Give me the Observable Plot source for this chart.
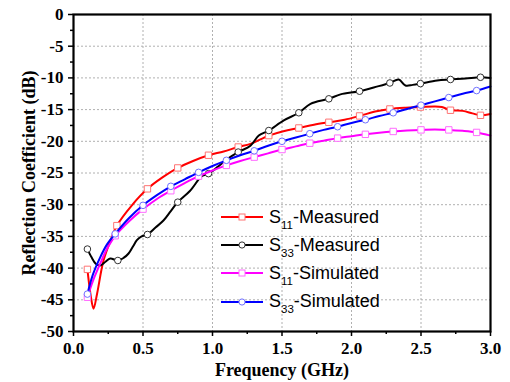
<!DOCTYPE html>
<html><head><meta charset="utf-8">
<script src="https://cdn.jsdelivr.net/npm/d3@7"></script>
<script src="https://cdn.jsdelivr.net/npm/@observablehq/plot@0.6"></script>
<style>
body{margin:0;background:#fff;}
#wrap{position:relative;width:510px;height:382px;}
#legend{position:absolute;left:221px;top:203px;font-family:"Liberation Sans",Arial,sans-serif;font-size:18px;color:#000;}
.row{height:28.2px;display:flex;align-items:center;white-space:nowrap;}
.row svg{margin-right:6px;display:block;}
.sub{font-size:11.5px;position:relative;top:6px;}
</style></head><body><div id="wrap"><div id="legend"></div></div>
<script>
// ---- data (frequency in GHz, reflection coefficient in dB) ----
const seriesNames = ["S11-Measured", "S33-Measured", "S11-Simulated", "S33-Simulated"];

const s11MeasX = [0.10,0.125,0.144,0.17,0.216,0.276,0.312,0.42,0.532,0.64,0.75,0.86,0.971,1.08,1.185,1.273,1.405,1.51,1.621,1.73,1.837,1.95,2.058,2.17,2.276,2.39,2.496,2.60,2.65,2.712,2.80,2.87,2.928,3.0];
const s11MeasY = [-40.2,-44.5,-46.4,-44.0,-38.8,-35.1,-33.3,-30.1,-27.5,-25.7,-24.2,-23.1,-22.2,-21.6,-20.9,-20.4,-19.1,-18.4,-17.9,-17.4,-17.0,-16.6,-16.0,-15.3,-14.9,-14.7,-14.6,-14.5,-14.6,-15.1,-15.2,-15.6,-15.9,-15.7];
const s11MeasMarkX = [0.10,0.312,0.532,0.75,0.971,1.185,1.405,1.621,1.837,2.058,2.276,2.496,2.712,2.928];
const s11MeasMarkY = [-40.2,-33.3,-27.5,-24.2,-22.2,-20.9,-19.1,-17.9,-17.0,-16.0,-14.9,-14.6,-15.1,-15.9];

const s33MeasX = [0.10,0.13,0.16,0.192,0.23,0.264,0.319,0.36,0.396,0.43,0.456,0.49,0.532,0.59,0.647,0.70,0.75,0.839,0.923,0.971,1.04,1.106,1.185,1.273,1.333,1.405,1.513,1.621,1.705,1.837,1.921,2.058,2.16,2.276,2.34,2.388,2.44,2.496,2.616,2.712,2.82,2.928,3.0];
const s33MeasY = [-37.0,-38.3,-39.3,-39.6,-39.0,-38.5,-38.8,-38.4,-37.7,-36.5,-35.6,-35.0,-34.7,-33.6,-32.5,-31.0,-29.6,-27.8,-25.5,-25.1,-24.0,-22.8,-21.7,-20.7,-19.1,-18.3,-16.7,-15.5,-14.1,-13.3,-12.6,-12.1,-11.5,-10.8,-10.25,-11.2,-11.1,-10.9,-10.4,-10.25,-10.1,-9.9,-10.0];
const s33MeasMarkX = [0.10,0.319,0.532,0.75,0.971,1.185,1.405,1.621,1.837,2.058,2.276,2.496,2.712,2.928];
const s33MeasMarkY = [-37.0,-38.8,-34.7,-29.6,-25.1,-21.7,-18.3,-15.5,-13.3,-12.1,-10.8,-10.9,-10.25,-9.9];

const s11SimX = [0.10,0.14,0.192,0.24,0.30,0.40,0.50,0.60,0.70,0.80,0.90,1.00,1.10,1.20,1.30,1.40,1.50,1.60,1.70,1.80,1.90,2.00,2.10,2.20,2.30,2.40,2.50,2.60,2.70,2.80,2.90,3.00];
const s11SimY = [-44.6,-42.0,-39.3,-37.0,-34.9,-32.6,-30.7,-29.1,-27.8,-26.6,-25.5,-24.6,-23.8,-23.1,-22.5,-21.9,-21.3,-20.8,-20.3,-19.9,-19.5,-19.2,-18.9,-18.65,-18.45,-18.3,-18.2,-18.15,-18.2,-18.35,-18.6,-19.1];
const s11SimMarkX = [0.1,0.3,0.5,0.7,0.9,1.1,1.3,1.5,1.7,1.9,2.1,2.3,2.5,2.7,2.9];
const s11SimMarkY = [-44.6,-34.9,-30.7,-27.8,-25.5,-23.8,-22.5,-21.3,-20.3,-19.5,-18.9,-18.45,-18.2,-18.2,-18.6];

const s33SimX = [0.10,0.14,0.192,0.24,0.30,0.40,0.50,0.60,0.70,0.80,0.90,1.00,1.10,1.20,1.30,1.40,1.50,1.60,1.70,1.80,1.90,2.00,2.10,2.20,2.30,2.40,2.50,2.60,2.70,2.80,2.90,3.00];
const s33SimY = [-44.1,-41.0,-38.3,-36.3,-34.6,-32.1,-30.1,-28.5,-27.1,-26.0,-24.9,-23.9,-23.0,-22.2,-21.5,-20.7,-20.0,-19.4,-18.8,-18.2,-17.7,-17.1,-16.6,-16.0,-15.5,-14.9,-14.3,-13.7,-13.1,-12.5,-12.0,-11.35];
const s33SimMarkX = [0.1,0.3,0.5,0.7,0.9,1.1,1.3,1.5,1.7,1.9,2.1,2.3,2.5,2.7,2.9];
const s33SimMarkY = [-44.1,-34.6,-30.1,-27.1,-24.9,-23.0,-21.5,-20.0,-18.8,-17.7,-16.6,-15.5,-14.3,-13.1,-12.0];

const xTicks = [0,0.5,1.0,1.5,2.0,2.5,3.0];
const xMinor = [0.25,0.75,1.25,1.75,2.25,2.75];
const yTicks = [0,-5,-10,-15,-20,-25,-30,-35,-40,-45,-50];
const yMinor = [-2.5,-7.5,-12.5,-17.5,-22.5,-27.5,-32.5,-37.5,-42.5,-47.5];

// ---- build ----
const pts = (xs, ys) => xs.map((x, i) => ({x, y: ys[i]}));
const styles = [
  {line:"#ff0000", mark:"#ff7373", symbol:"square", r:3.6, xs:s11MeasX, ys:s11MeasY, mx:s11MeasMarkX, my:s11MeasMarkY},
  {line:"#000000", mark:"#333333", symbol:"circle", r:3.3, xs:s33MeasX, ys:s33MeasY, mx:s33MeasMarkX, my:s33MeasMarkY},
  {line:"#ff00ff", mark:"#ff6bff", symbol:"square", r:3.6, xs:s11SimX, ys:s11SimY, mx:s11SimMarkX, my:s11SimMarkY},
  {line:"#0000ff", mark:"#7070ff", symbol:"circle", r:3.3, xs:s33SimX, ys:s33SimY, mx:s33SimMarkX, my:s33SimMarkY}
];
const seriesMarks = styles.flatMap(s => [
  Plot.line(pts(s.xs, s.ys), {x:"x", y:"y", stroke:s.line, strokeWidth:2, curve:"catmull-rom"}),
  Plot.dot(pts(s.mx, s.my), {x:"x", y:"y", symbol:s.symbol, r:s.r, fill:"white", stroke:s.mark, strokeWidth:1})
]);

const grid = {stroke:"#b0b0b0", strokeOpacity:1, strokeDasharray:"2,2", strokeWidth:1};
const plot = Plot.plot({
  width:510, height:382,
  marginLeft:73, marginRight:20, marginTop:14, marginBottom:51,
  x:{domain:[0,3]}, y:{domain:[-50,0]},
  style:{fontFamily:"'Liberation Serif','Times New Roman',serif", fontWeight:"bold", fontSize:"17px", background:"white", color:"black"},
  marks:[
    Plot.gridX(xTicks.slice(1,-1), grid),
    Plot.gridY(yTicks.slice(1,-1), grid),
    ...seriesMarks,
    Plot.axisX(xMinor, {tickSize:3, tickFormat:() => "", strokeWidth:1.5, label:null}),
    Plot.axisX(xTicks, {tickSize:5, tickPadding:5, strokeWidth:1.5, tickFormat:d3.format(".1f"), label:null}),
    Plot.axisY(yMinor, {tickSize:3, tickFormat:() => "", strokeWidth:1.5, label:null}),
    Plot.axisY(yTicks, {tickSize:5, tickPadding:5, strokeWidth:1.5, tickFormat:d => String(d), label:null}),
    Plot.frame({stroke:"black", strokeWidth:2.2}),
    Plot.text(["Frequency (GHz)"], {frameAnchor:"bottom", dy:39, lineAnchor:"middle", textAnchor:"middle", fontSize:18, fontWeight:"bold"}),
    Plot.text(["Reflection Coefficient (dB)"], {frameAnchor:"left", dx:-44, rotate:-90, lineAnchor:"middle", textAnchor:"middle", fontSize:18, fontWeight:"bold"})
  ]
});
const wrap = document.getElementById("wrap");
wrap.insertBefore(plot, wrap.firstChild);

// legend
const legend = document.getElementById("legend");
styles.forEach((s, i) => {
  const row = document.createElement("div");
  row.className = "row";
  const sym = s.symbol === "square"
    ? `<rect x="18" y="4" width="6" height="6" fill="white" stroke="${s.mark}" stroke-width="1"/>`
    : `<circle cx="21" cy="7" r="3.1" fill="white" stroke="${s.mark}" stroke-width="1"/>`;
  const name = seriesNames[i];
  const m = name.match(/^S(\d+)(.*)$/);
  row.innerHTML = `<svg width="42" height="14"><line x1="0" x2="42" y1="7" y2="7" stroke="${s.line}" stroke-width="2"/>${sym}</svg><span>S<span class="sub">${m[1]}</span>${m[2]}</span>`;
  legend.appendChild(row);
});
</script>
</body></html>
